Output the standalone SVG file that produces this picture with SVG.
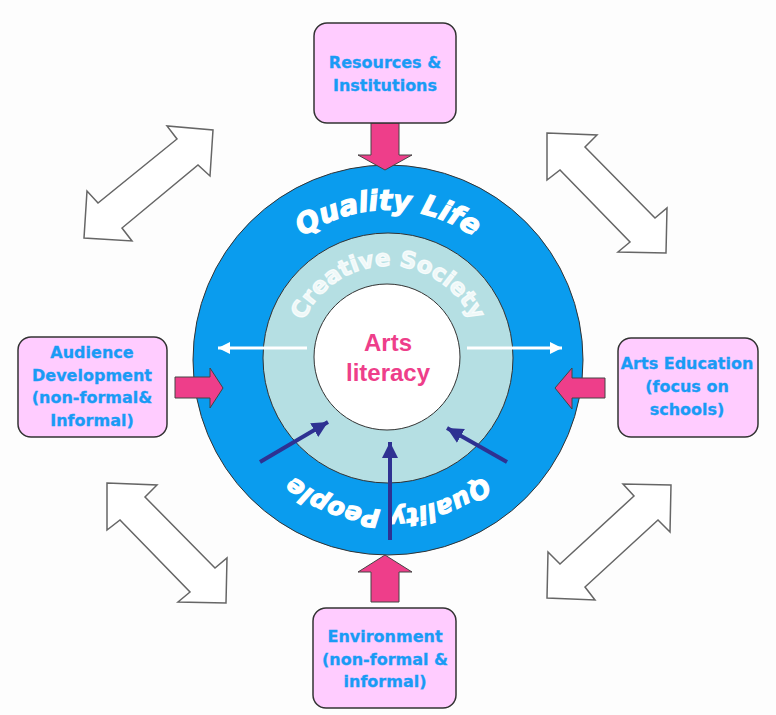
<svg xmlns="http://www.w3.org/2000/svg" width="776" height="715" viewBox="0 0 776 715">
<style>
.box{fill:#FFCCFF;stroke:#333;stroke-width:1.5}
.bt{font-family:"DejaVu Sans",sans-serif;font-weight:bold;font-size:16px;fill:#1A9BF5;stroke:#1A9BF5;stroke-width:0.3;text-anchor:middle}
.pk{fill:#EE3E8A;stroke:#444;stroke-width:1}
.hol{fill:#fff;stroke:#666;stroke-width:1.5;stroke-linejoin:miter}
.ring{font-family:"DejaVu Sans",sans-serif;font-weight:bold;font-style:italic;fill:#fff;stroke:#fff;stroke-width:1.2;text-anchor:middle}
.nv{stroke:#2E3192;stroke-width:4;fill:none}
.wh{stroke:#fff;stroke-width:3;fill:none}
</style>
<defs>
<path id="outerPath" d="M238,360 A150,150 0 1,1 538,360 A150,150 0 1,1 238,360"/>
<path id="innerPath" d="M296,358 A92,92 0 1,1 480,358 A92,92 0 1,1 296,358"/>
<marker id="nvh" markerUnits="userSpaceOnUse" markerWidth="20" markerHeight="20" refX="16" refY="8" orient="auto"><path d="M0,0 L16,8 L0,16 Z" fill="#2E3192"/></marker>
<marker id="whh" markerUnits="userSpaceOnUse" markerWidth="16" markerHeight="14" refX="12" refY="6" orient="auto"><path d="M0,0 L12,6 L0,12 Z" fill="#fff"/></marker>
</defs>
<rect width="776" height="715" fill="#fdfdfd"/>

<g id="hollow-arrows">
<polygon class="hol" points="213,130 210,176 198,165 122,228 132,241 84,238 87,191 98,203 177,139 167,126"/>
<polygon class="hol" points="547,133 597,135 585,147 655,218 667,208 666,253 618,252 630,242 560,170 547,180"/>
<polygon class="hol" points="107,483 157,485 145,497 215,568 227,558 226,603 178,602 190,592 120,520 107,530"/>
<polygon class="hol" points="671,485 670,532 658,520 585,587 595,600 547,598 548,552 560,564 634,496 623,484"/>
</g>

<g id="circles">
<circle cx="388" cy="360" r="195" fill="#0A9CEE" stroke="#333" stroke-width="1"/>
<circle cx="388" cy="358" r="125" fill="#B5DFE3" stroke="#333" stroke-width="1"/>
<circle cx="387" cy="357" r="73" fill="#fff" stroke="#333" stroke-width="1"/>
<text class="ring" font-size="28"><textPath href="#outerPath" startOffset="25%">Quality Life</textPath></text>
<text class="ring" font-size="25"><textPath href="#outerPath" startOffset="75%">Quality People</textPath></text>
<text class="ring" font-size="23" fill-opacity="0.78" stroke-opacity="0.78" style="font-style:normal"><textPath href="#innerPath" startOffset="25%">Creative Society</textPath></text>
<text font-family="Liberation Sans,Arial,sans-serif" font-weight="bold" font-size="24" fill="#EE3E8A" text-anchor="middle"><tspan x="388" y="351">Arts</tspan><tspan x="388" y="381">literacy</tspan></text>
</g>

<g id="connectors">
<line class="wh" x1="307" y1="348" x2="218" y2="348" marker-end="url(#whh)"/>
<line class="wh" x1="467" y1="348" x2="562" y2="348" marker-end="url(#whh)"/>
<line class="nv" x1="260" y1="462" x2="328" y2="422" marker-end="url(#nvh)"/>
<line class="nv" x1="390" y1="540" x2="390" y2="442" marker-end="url(#nvh)"/>
<line class="nv" x1="507" y1="462" x2="447" y2="428" marker-end="url(#nvh)"/>
<polygon class="pk" points="371,123 399,123 399,155 412,155 385,170 358,155 371,155"/>
<polygon class="pk" points="371,602 399,602 399,572 412,572 385,555 358,572 371,572"/>
<polygon class="pk" points="175,377 210,377 210,368 223,388 210,408 210,398 175,398"/>
<polygon class="pk" points="605,378 572,378 572,368 555,388 572,409 572,398 605,398"/>
</g>

<g id="node-resources">
<rect class="box" x="314" y="23" width="142" height="100" rx="13"/>
<text class="bt"><tspan x="385" y="68">Resources &amp;</tspan><tspan x="385" y="91">Institutions</tspan></text>
</g>
<g id="node-audience">
<rect class="box" x="18" y="337" width="149" height="100" rx="13"/>
<text class="bt"><tspan x="92" y="358">Audience</tspan><tspan x="92" y="381">Development</tspan><tspan x="92" y="403">(non-formal&amp;</tspan><tspan x="92" y="426">Informal)</tspan></text>
</g>
<g id="node-arts-education">
<rect class="box" x="618" y="338" width="140" height="99" rx="13"/>
<text class="bt"><tspan x="687" y="369">Arts Education</tspan><tspan x="687" y="392">(focus on</tspan><tspan x="687" y="415">schools)</tspan></text>
</g>
<g id="node-environment">
<rect class="box" x="313" y="608" width="143" height="100" rx="13"/>
<text class="bt"><tspan x="385" y="642">Environment</tspan><tspan x="385" y="665">(non-formal &amp;</tspan><tspan x="385" y="687">informal)</tspan></text>
</g>
</svg>
